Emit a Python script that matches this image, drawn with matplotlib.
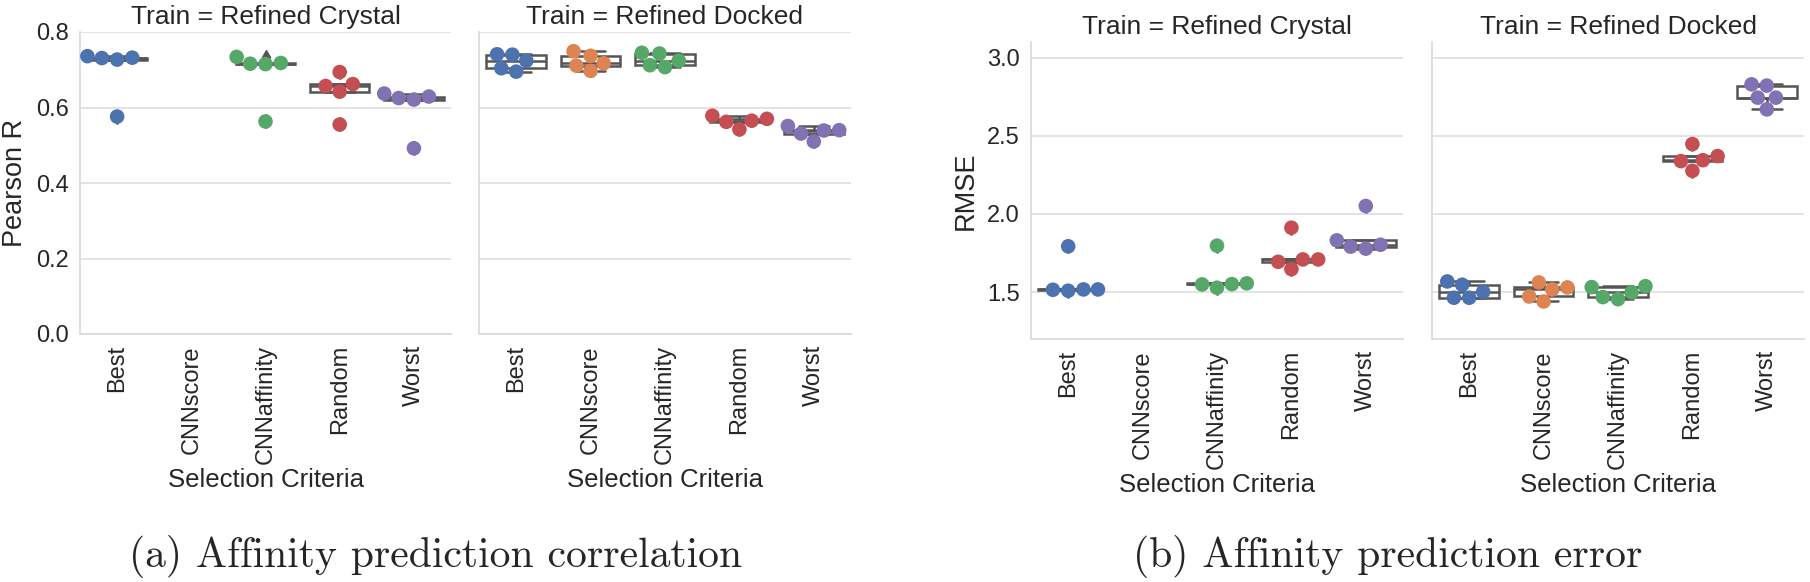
import matplotlib
matplotlib.use("Agg")
import matplotlib.pyplot as plt
import seaborn as sns
import pandas as pd

criteria = ["Best", "CNNscore", "CNNaffinity", "Random", "Worst"]
colors = ["#4C72B0", "#DD8452", "#55A868", "#C44E52", "#8172B3"]

# Pearson R, trained on refined crystal (no CNNscore runs)
r_crystal = {
    "Best": [0.736, 0.731, 0.727, 0.576, 0.732],
    "CNNscore": [],
    "CNNaffinity": [0.734, 0.716, 0.715, 0.563, 0.718],
    "Random": [0.694, 0.657, 0.642, 0.555, 0.662],
    "Worst": [0.637, 0.625, 0.621, 0.492, 0.629],
}
# Pearson R, trained on refined docked
r_docked = {
    "Best": [0.740, 0.704, 0.695, 0.724, 0.741],
    "CNNscore": [0.737, 0.711, 0.697, 0.717, 0.749],
    "CNNaffinity": [0.743, 0.712, 0.707, 0.724, 0.745],
    "Random": [0.578, 0.562, 0.542, 0.565, 0.570],
    "Worst": [0.551, 0.531, 0.510, 0.539, 0.540],
}
# RMSE, trained on refined crystal
rmse_crystal = {
    "Best": [1.515, 1.509, 1.793, 1.517, 1.517],
    "CNNscore": [],
    "CNNaffinity": [1.549, 1.528, 1.797, 1.551, 1.556],
    "Random": [1.709, 1.709, 1.647, 1.912, 1.694],
    "Worst": [1.831, 1.791, 1.778, 2.051, 1.803],
}
# RMSE, trained on refined docked
rmse_docked = {
    "Best": [1.547, 1.464, 1.464, 1.502, 1.568],
    "CNNscore": [1.562, 1.472, 1.440, 1.517, 1.530],
    "CNNaffinity": [1.532, 1.468, 1.455, 1.498, 1.538],
    "Random": [2.447, 2.338, 2.276, 2.344, 2.370],
    "Worst": [2.829, 2.744, 2.669, 2.744, 2.821],
}

sns.set_style("whitegrid")
plt.rcParams["font.family"] = ["Liberation Sans", "DejaVu Sans"]

W, H = 1810, 582
fig = plt.figure(figsize=(W / 100, H / 100), dpi=100)

TXT = "#262626"


def px_axes(x0, x1, y0, y1, **kw):
    return fig.add_axes([x0 / W, 1 - y1 / H, (x1 - x0) / W, (y1 - y0) / H], **kw)


def to_frame(d):
    rows = [(c, v) for c in criteria for v in d[c]]
    return pd.DataFrame(rows, columns=["crit", "val"])


def draw(ax, d, title):
    df = to_frame(d)
    sns.boxplot(data=df, x="crit", y="val", order=criteria, color="white",
                linecolor="#555555", linewidth=1.8, width=0.8, ax=ax,
                flierprops=dict(marker="d", markerfacecolor="#555555",
                                markeredgecolor="#555555", markersize=7))
    # keep the box artists under the points
    for ln in ax.lines:
        ln.set_zorder(1.5)
    for p in ax.patches:
        p.set_zorder(1.2)
    sns.swarmplot(data=df, x="crit", y="val", order=criteria, hue="crit",
                  hue_order=criteria, palette=colors, size=10.5, ax=ax,
                  legend=False)
    for c in ax.collections:
        c.set_zorder(5)
    ax.set_title(title, fontsize=19, color=TXT, pad=6)
    ax.set_xlabel("Selection Criteria", fontsize=18.5, color=TXT, labelpad=3)
    ax.tick_params(axis="x", labelrotation=90, labelsize=17, length=0, pad=8, colors=TXT)
    ax.tick_params(axis="y", labelsize=17, length=0, pad=8, colors=TXT)
    ax.xaxis.grid(False)
    ax.yaxis.grid(True, color="#e0e0e0", linewidth=1.3)
    for s in ["top", "right"]:
        ax.spines[s].set_visible(False)
    for s in ["left", "bottom"]:
        ax.spines[s].set_color("#dcdcdc")
        ax.spines[s].set_linewidth(1.3)
    ax.set_xlim(-0.5, 4.5)


ax1 = px_axes(80, 451, 32, 334)
ax2 = px_axes(479, 851, 32, 334, sharey=ax1)
ax3 = px_axes(1031, 1403, 42, 339)
ax4 = px_axes(1432, 1804, 42, 339, sharey=ax3)

draw(ax1, r_crystal, "Train = Refined Crystal")
draw(ax2, r_docked, "Train = Refined Docked")
draw(ax3, rmse_crystal, "Train = Refined Crystal")
draw(ax4, rmse_docked, "Train = Refined Docked")

ax1.set_ylim(0, 0.8)
ax1.set_yticks([0.0, 0.2, 0.4, 0.6, 0.8])
ax1.set_ylabel("Pearson R", fontsize=19.5, color=TXT, labelpad=6)
ax3.set_ylim(1.2, 3.1)
ax3.set_yticks([1.5, 2.0, 2.5, 3.0])
ax3.set_ylabel("RMSE", fontsize=19.5, color=TXT, labelpad=6)
for ax in (ax2, ax4):
    ax.set_ylabel("")
    ax.tick_params(axis="y", labelleft=False)

fig.text(436 / W, 1 - 556 / H, "(a) Affinity prediction correlation",
         fontfamily="cmr10", fontsize=30, ha="center", va="center")
fig.text(1388 / W, 1 - 556 / H, "(b) Affinity prediction error",
         fontfamily="cmr10", fontsize=30, ha="center", va="center")

fig.savefig("out.png", dpi=100)
